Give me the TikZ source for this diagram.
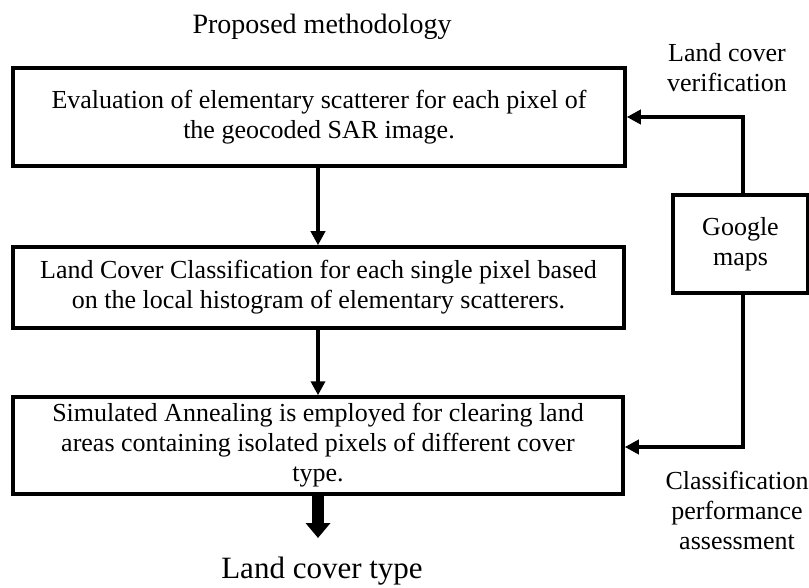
\documentclass[tikz,border=0pt]{standalone}
\usepackage{fontspec}
\setmainfont{Liberation Serif}
\usetikzlibrary{arrows.meta}
\begin{document}
\begin{tikzpicture}[x=1bp,y=-1bp,
  boxstyle/.style={draw,line width=3.5bp,inner sep=0pt,align=center,
    font=\fontsize{26bp}{30bp}\selectfont},
  lbl/.style={align=center,inner sep=0pt,font=\fontsize{26bp}{30bp}\selectfont},
  conn/.style={line width=3.5bp,-{Triangle[length=14bp,width=14bp]}}]
\useasboundingbox (0,0) rectangle (809,588);
\node[lbl,font=\fontsize{28bp}{30bp}\selectfont] (title) at (322,27) {Proposed methodology};
\node[boxstyle,minimum width=612bp,minimum height=98bp] (b1) at (319,117)
  {Evaluation of elementary scatterer for each pixel of\\the geocoded SAR image.};
\node[boxstyle,minimum width=611bp,minimum height=81bp] (b2) at (318.5,287.5)
  {Land Cover Classification for each single pixel based\\on the local histogram of elementary scatterers.};
\node[boxstyle,minimum width=610bp,minimum height=97bp] (b3) at (318,445.5)
  {Simulated Annealing is employed for clearing land\\areas containing isolated pixels of different cover\\type.};
\node[boxstyle,minimum width=135bp,minimum height=98bp] (g) at (740.5,244)
  {Google\\maps};
\node[lbl] (lv) at (727,68) {Land cover\\verification};
\node[lbl] (cp) at (737,510) {Classification\\performance\\assessment};
\coordinate (out) at (318,538);
\node[lbl,font=\fontsize{31bp}{34bp}\selectfont] (lct) at (322,571) {Land cover type};
\draw[conn] (b1.south -| 318,0) -- (b2.north -| 318,0);
\draw[conn] (b2.south -| 318,0) -- (b3.north -| 318,0);
\draw[conn] (g.north -| 743,0) |- (b1.east |- 0,117);
\draw[conn] (g.south -| 743,0) |- (b3.east |- 0,447);
\draw[line width=12bp,-{Triangle[length=15bp,width=24bp]}] (b3.south -| out) -- (out);
\end{tikzpicture}
\end{document}
